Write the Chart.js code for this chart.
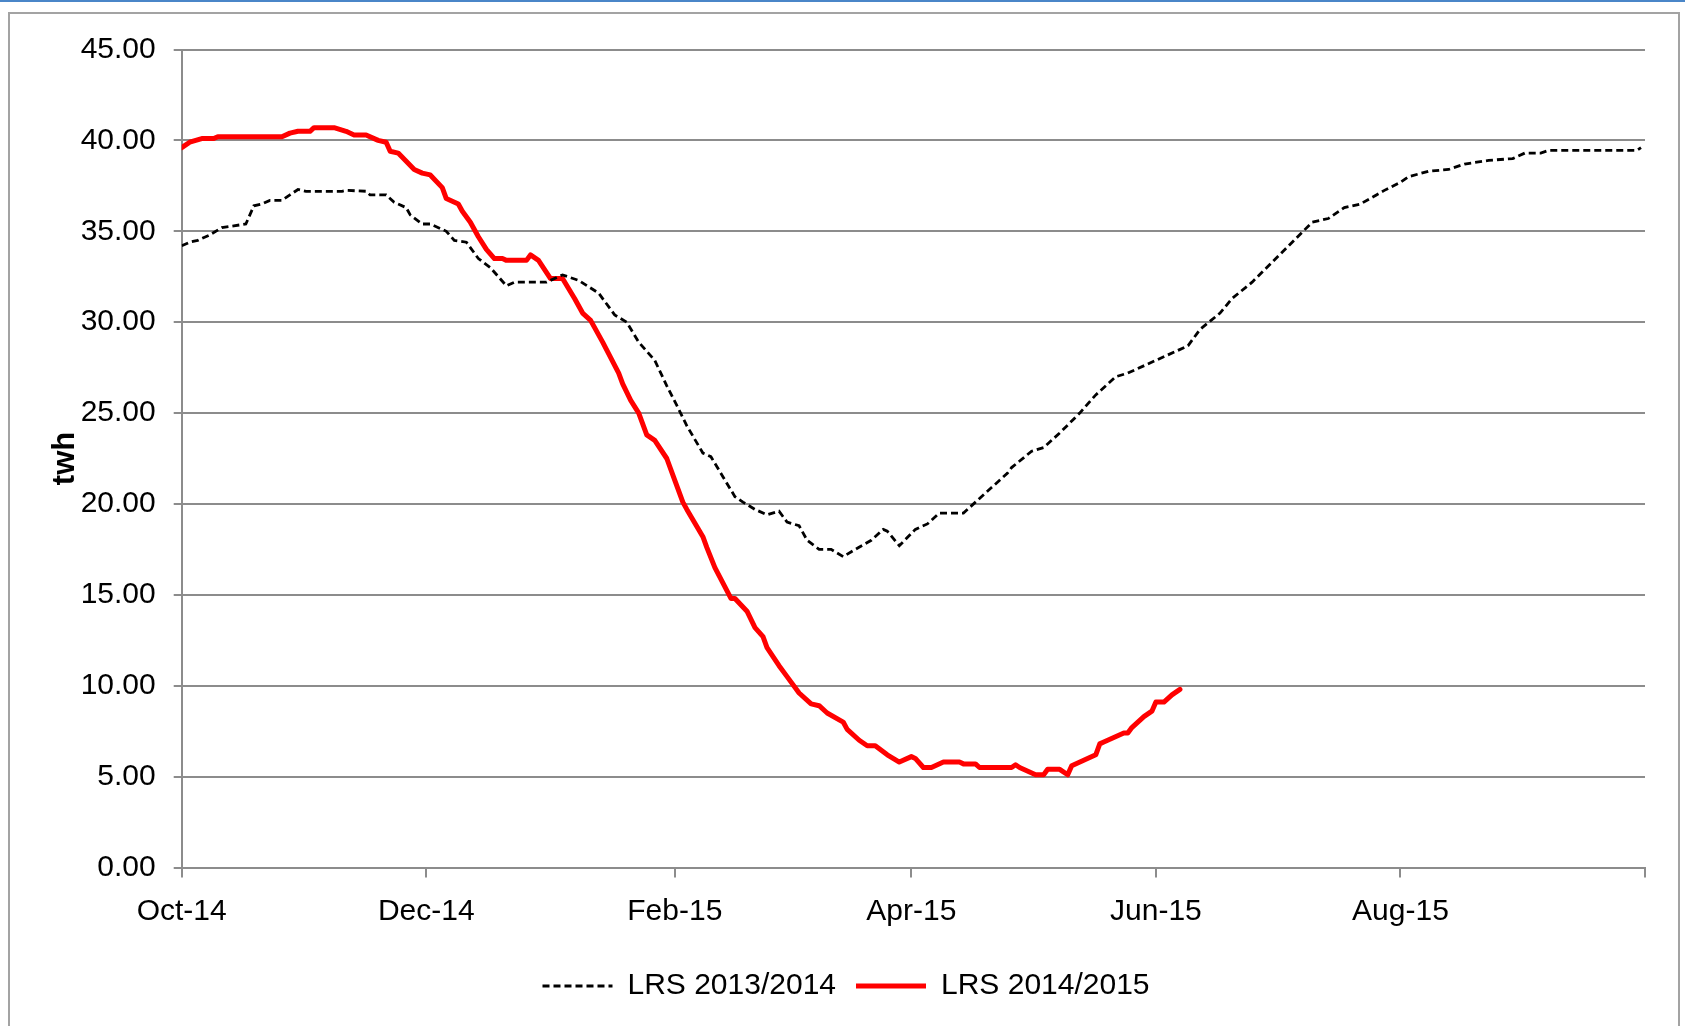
<!DOCTYPE html>
<html>
<head>
<meta charset="utf-8">
<title>LRS</title>
<script src="https://cdn.jsdelivr.net/npm/chart.js@4.4.0/dist/chart.umd.min.js"></script>
<style>
  html, body { margin: 0; padding: 0; background: #fff; }
  body { position: relative; width: 1685px; height: 1026px; overflow: hidden; }
  #topline { position: absolute; left: 0; top: 0; width: 1685px; height: 2px; background: #4a86c8; }
  #frame { position: absolute; left: 8px; top: 12px; width: 1668px; height: 1100px; border: 2px solid #a3a3a3; }
  #lrsChart { position: absolute; left: 0; top: 0; }
</style>
</head>
<body>
<div id="topline"></div>
<div id="frame"></div>
<canvas id="lrsChart" width="1685" height="1026"></canvas>
<script>
// x = days since 1 Oct
const monthTickDays = [0, 61, 123, 182, 243, 304, 365];
const monthTickLabels = ['Oct-14', 'Dec-14', 'Feb-15', 'Apr-15', 'Jun-15', 'Aug-15', ''];
const seriesNames = ['LRS 2013/2014', 'LRS 2014/2015'];

const lrs1314Days = [0, 2, 4, 7, 10, 13, 16, 18, 20, 22, 25, 27, 29, 31, 40, 41, 46, 47, 51, 53,
  56, 57, 60, 62, 66, 68, 71, 74, 77, 81, 83, 91, 95, 99, 104, 108, 111, 114, 118, 121,
  124, 126, 130, 132, 135, 138, 140, 143, 146, 149, 151, 154, 156, 159, 162, 165, 168, 172, 175, 176,
  179, 183, 186, 189, 195, 198, 202, 206, 207, 212, 215, 219, 224, 228, 233, 236, 241, 246, 251, 254,
  259, 262, 267, 272, 277, 282, 286, 290, 294, 298, 300, 304, 306, 311, 316, 320, 326, 332, 335, 339,
  341, 363, 364];
const lrs1314Values = [34.2, 34.4, 34.5, 34.8, 35.2, 35.3, 35.4, 36.4, 36.5, 36.7, 36.7, 37.0, 37.3, 37.2, 37.2, 37.25, 37.2, 37.0, 37.0, 36.6,
  36.3, 35.9, 35.4, 35.4, 35.0, 34.5, 34.4, 33.5, 33.0, 32.0, 32.2, 32.2, 32.6, 32.3, 31.6, 30.4, 30.0, 28.9, 27.9, 26.5,
  25.2, 24.3, 22.8, 22.6, 21.5, 20.4, 20.1, 19.7, 19.4, 19.6, 19.0, 18.8, 18.0, 17.5, 17.5, 17.1, 17.5, 18.0, 18.6, 18.5,
  17.7, 18.6, 18.9, 19.5, 19.5, 20.1, 20.9, 21.7, 22.0, 22.9, 23.1, 23.9, 25.0, 26.0, 27.0, 27.2, 27.7, 28.2, 28.7, 29.6,
  30.5, 31.3, 32.2, 33.3, 34.4, 35.5, 35.7, 36.3, 36.5, 37.0, 37.25, 37.7, 38.0, 38.3, 38.4, 38.7, 38.9, 39.0, 39.3, 39.3,
  39.45, 39.45, 39.6];

const lrs1415Days = [0, 2, 5, 8, 9, 25, 27, 29, 32, 33, 38, 41, 43, 46, 49, 51, 52, 54, 58, 60,
  62, 65, 66, 69, 70, 72, 74, 76, 78, 80, 81, 86, 87, 89, 92, 95, 98, 100, 102, 105,
  109, 110, 112, 114, 116, 118, 121, 123, 125, 126, 130, 131, 133, 137, 138, 141, 143, 145, 146, 149,
  151, 154, 157, 159, 161, 165, 166, 169, 171, 173, 176, 179, 182, 183, 185, 187, 190, 194, 195, 198,
  199, 207, 208, 209, 213, 215, 216, 219, 221, 222, 225, 228, 229, 230, 235, 236, 237, 240, 242, 243,
  245, 247, 249];
const lrs1415Values = [39.6, 39.9, 40.1, 40.1, 40.2, 40.2, 40.4, 40.5, 40.5, 40.7, 40.7, 40.5, 40.3, 40.3, 40.0, 39.9, 39.4, 39.3, 38.4, 38.2,
  38.1, 37.4, 36.8, 36.5, 36.1, 35.5, 34.7, 34.0, 33.5, 33.5, 33.4, 33.4, 33.7, 33.4, 32.4, 32.4, 31.3, 30.5, 30.1, 28.9,
  27.2, 26.6, 25.7, 25.0, 23.8, 23.5, 22.5, 21.3, 20.1, 19.7, 18.2, 17.6, 16.5, 14.8, 14.8, 14.1, 13.2, 12.7, 12.1, 11.1,
  10.5, 9.6, 9.0, 8.9, 8.5, 8.0, 7.6, 7.0, 6.7, 6.7, 6.2, 5.8, 6.1, 6.0, 5.5, 5.5, 5.8, 5.8, 5.7, 5.7,
  5.5, 5.5, 5.65, 5.5, 5.1, 5.1, 5.4, 5.4, 5.1, 5.6, 5.9, 6.2, 6.8, 6.9, 7.4, 7.4, 7.7, 8.3, 8.6, 9.1,
  9.1, 9.5, 9.8];

const yTickValues = [0, 5, 10, 15, 20, 25, 30, 35, 40, 45];

const FONT = "'Liberation Sans Narrow', 'Arial Narrow', 'Liberation Sans', Arial, sans-serif";
const GRID = '#8c8c8c';

function toPoints(days, values) {
    return days.map((d, i) => ({ x: d, y: values[i] }));
}

// default legend items, but keep the dash of each line
function legendLabels(chart) {
    const items = Chart.defaults.plugins.legend.labels.generateLabels(chart);
    items.forEach(item => {
        const ds = chart.data.datasets[item.datasetIndex];
        item.lineDash = ds.borderDash || [];
        item.lineWidth = ds.borderWidth;
        item.strokeStyle = ds.borderColor;
        item.lineCap = 'butt';
    });
    return items;
}

document.addEventListener("DOMContentLoaded", () => {
    Chart.defaults.font.family = FONT;
    Chart.defaults.color = '#000';

    const ctx = document.getElementById('lrsChart').getContext('2d');

    new Chart(ctx, {
        type: 'line',
        data: {
            datasets: [{
                label: seriesNames[0],
                data: toPoints(lrs1314Days, lrs1314Values),
                borderColor: '#000',
                backgroundColor: '#000',
                borderWidth: 2.8,
                borderDash: [7, 4],
                pointRadius: 0,
                tension: 0
            }, {
                label: seriesNames[1],
                data: toPoints(lrs1415Days, lrs1415Values),
                borderColor: '#ff0000',
                backgroundColor: '#ff0000',
                borderWidth: 5,
                borderJoinStyle: 'round',
                borderCapStyle: 'round',
                pointRadius: 0,
                tension: 0
            }]
        },
        options: {
            responsive: false,
            animation: false,
            devicePixelRatio: 1,
            layout: { padding: { left: 47, top: 49.5, right: 40, bottom: 15 } },
            scales: {
                x: {
                    type: 'linear',
                    min: 0,
                    max: 365,
                    afterBuildTicks: (scale) => {
                        scale.ticks = monthTickDays.map(v => ({ value: v }));
                    },
                    afterFit: (scale) => { scale.height = 83.5; },
                    grid: { drawOnChartArea: false, color: GRID, lineWidth: 2, tickLength: 10 },
                    border: { color: GRID, width: 2 },
                    ticks: {
                        autoSkip: false,
                        maxRotation: 0,
                        padding: 16,
                        font: { size: 30 },
                        callback: (value) => {
                            const i = monthTickDays.indexOf(value);
                            return i >= 0 ? monthTickLabels[i] : '';
                        }
                    }
                },
                y: {
                    min: 0,
                    max: 45,
                    afterBuildTicks: (scale) => {
                        scale.ticks = yTickValues.map(v => ({ value: v }));
                    },
                    afterFit: (scale) => { scale.width = 134.7; },
                    grid: { color: GRID, lineWidth: 2, tickLength: 8 },
                    border: { color: GRID, width: 2 },
                    ticks: {
                        padding: 18,
                        font: { size: 30 },
                        callback: (value) => value.toFixed(2)
                    },
                    title: {
                        display: true,
                        text: 'twh',
                        padding: { top: 0, bottom: 0 },
                        font: { family: "'Liberation Sans', Arial, sans-serif", size: 31, weight: 'bold' }
                    }
                }
            },
            plugins: {
                legend: {
                    position: 'bottom',
                    labels: {
                        usePointStyle: true,
                        pointStyle: 'line',
                        pointStyleWidth: 70,
                        padding: 20,
                        font: { size: 30 },
                        generateLabels: legendLabels
                    }
                },
                tooltip: { enabled: false }
            }
        }
    });
});
</script>
</body>
</html>
